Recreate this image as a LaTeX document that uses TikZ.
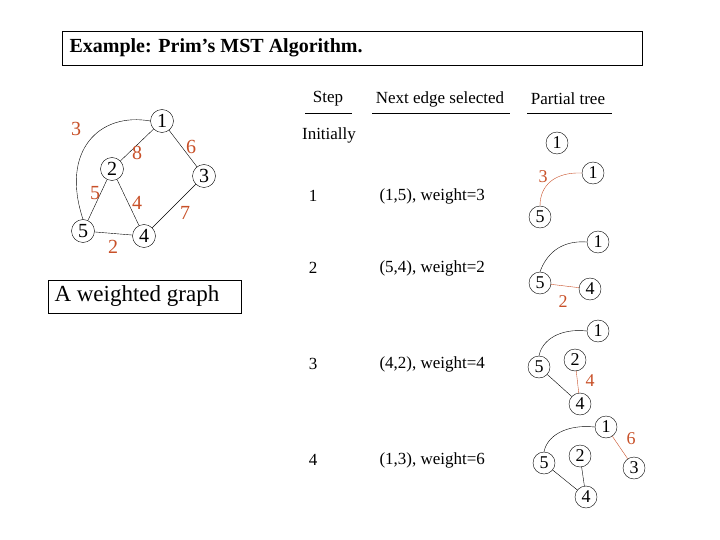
\documentclass[tikz,border=0pt]{standalone}
\usepackage{fontspec}
\setmainfont{Liberation Serif}
\definecolor{wred}{RGB}{200,80,40}
\begin{document}
\begin{tikzpicture}[x=1pt,y=-1pt,
 vtx/.style={circle,draw,inner sep=0pt,minimum size=23pt,font=\fontsize{20}{20}\selectfont},
 svtx/.style={circle,draw,inner sep=0pt,minimum size=22pt,font=\fontsize{18}{18}\selectfont},
 wt/.style={text=wred,font=\fontsize{20}{20}\selectfont},
 swt/.style={text=wred,font=\fontsize{18}{18}\selectfont},
 txt/.style={font=\fontsize{17}{17}\selectfont},
 hl/.style={line width=0.6pt}]
\useasboundingbox (0,0) rectangle (720,540);
\node[draw,thick,minimum width=580pt,minimum height=34pt,anchor=north west,inner sep=0pt] (title) at (62,31) {};
\node[anchor=west,font=\bfseries\fontsize{20}{20}\selectfont] at (66,48) {Example: Prim’s MST Algorithm.};
% graph
\node[vtx] (n1) at (162,121) {1};
\node[vtx] (n2) at (112,169) {2};
\node[vtx] (n3) at (204,176) {3};
\node[vtx] (n5) at (83,231) {5};
\node[vtx] (n4) at (144,236) {4};
\draw (n1.west) .. controls (100,112) and (60,150) .. (n5.north);
\draw (n1) -- (n2); \draw (n1) -- (n3); \draw (n2) -- (n5); \draw (n2) -- (n4);
\draw (n3) -- (n4); \draw (n5) -- (n4);
\node[wt] at (76,129) {3}; \node[wt] at (137,153) {8}; \node[wt] at (191,147) {6};
\node[wt] at (95,193) {5}; \node[wt] at (137,203) {4}; \node[wt] at (185,213) {7};
\node[wt] at (113,247) {2};
\node[draw,minimum width=193pt,minimum height=33pt,anchor=north west,inner sep=0pt] (wg) at (48,280) {};
\node[anchor=west,font=\fontsize{23}{23}\selectfont] at (51,296) {A weighted graph};
% table
\node[txt] (hs) at (328,99) {Step}; \node[txt] (hn) at (440,99) {Next edge selected}; \node[txt] (hp) at (568,99) {Partial tree};
\draw[hl] (305,113) -- (352,113); \draw[hl] (372,113) -- (510,113); \draw[hl] (527,113) -- (612,113);
\node[txt] at (329,135) {Initially};
\node[txt] at (313,196) {1}; \node[txt,anchor=west] at (376,196) {(1,5), weight=3};
\node[txt] at (313,268) {2}; \node[txt,anchor=west] at (376,268) {(5,4), weight=2};
\node[txt] at (313,364) {3}; \node[txt,anchor=west] at (376,364) {(4,2), weight=4};
\node[txt] at (313,460) {4}; \node[txt,anchor=west] at (376,460) {(1,3), weight=6};
% tree 0
\node[svtx] (a1) at (557,143) {1};
% tree 1
\node[svtx] (b1) at (593,173) {1}; \node[svtx] (b5) at (540,217) {5};
\draw[wred] (b1.west) .. controls (555,172) and (540,185) .. (b5.north);
\node[swt] at (543,177) {3};
% tree 2
\node[svtx] (c1) at (598,242) {1}; \node[svtx] (c5) at (540,283) {5}; \node[svtx] (c4) at (590,289) {4};
\draw (c1.west) .. controls (560,240) and (546,255) .. (c5.north);
\draw[wred] (c5) -- (c4); \node[swt] at (563,302) {2};
% tree 3
\node[svtx] (d1) at (598,331) {1}; \node[svtx] (d5) at (539,367) {5}; \node[svtx] (d2) at (575,360) {2}; \node[svtx] (d4) at (580,404) {4};
\draw (d1.west) .. controls (560,328) and (542,340) .. (d5.north);
\draw (d5) -- (d4); \draw[wred] (d2) -- (d4); \node[swt] at (590,381) {4};
% tree 4
\node[svtx] (e1) at (606,427) {1}; \node[svtx] (e5) at (544,463) {5}; \node[svtx] (e2) at (580,456) {2}; \node[svtx] (e3) at (634,468) {3}; \node[svtx] (e4) at (586,497) {4};
\draw (e1.west) .. controls (566,424) and (547,436) .. (e5.north);
\draw (e5) -- (e4); \draw (e2) -- (e4); \draw[wred] (e1) -- (e3); \node[swt] at (631,439) {6};
\end{tikzpicture}
\end{document}
